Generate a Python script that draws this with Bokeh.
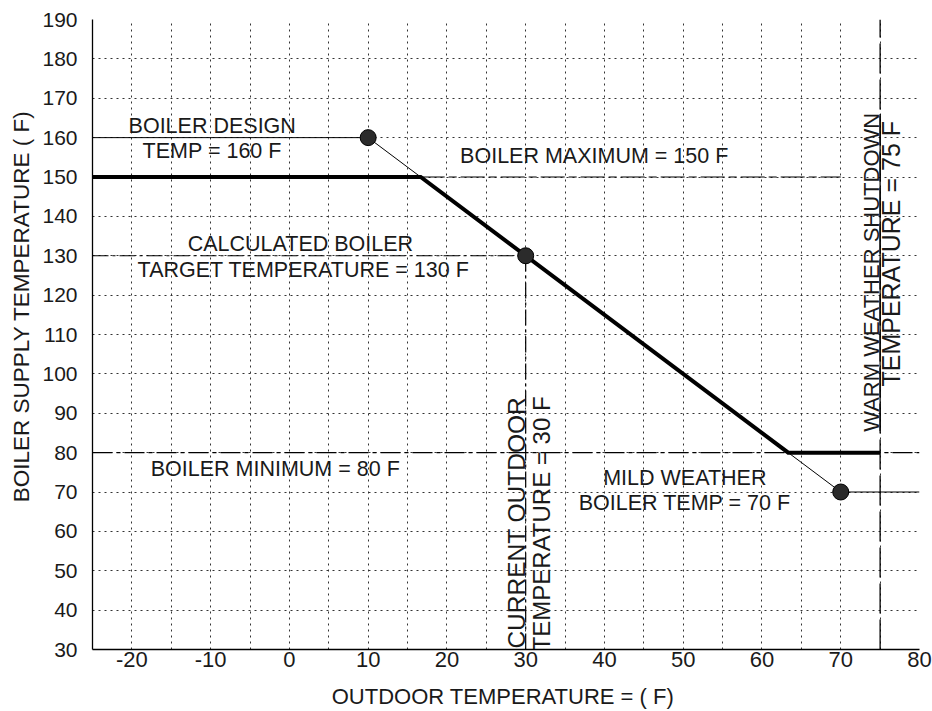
from bokeh.plotting import figure
from bokeh.models import FixedTicker, Range1d, ColumnDataSource
from bokeh.core.properties import value
from bokeh.embed import file_html
from bokeh.resources import INLINE
import math

# ---------------- data ----------------
x_ticks = [-20, -10, 0, 10, 20, 30, 40, 50, 60, 70, 80]
x_minor = [-25, -15, -5, 5, 15, 25, 35, 45, 55, 65, 75]
y_ticks = [30, 40, 50, 60, 70, 80, 90, 100, 110, 120, 130, 140, 150, 160, 170, 180, 190]
x_min, x_max = -25, 80
y_min, y_max = 30, 190

design_outdoor, design_supply = 10, 160      # boiler design point
current_outdoor, target_supply = 30, 130     # current / calculated target
mild_outdoor, mild_supply = 70, 70           # mild weather point
boiler_max = 150
boiler_min = 80
shutdown_outdoor = 75

point_outdoor = [design_outdoor, current_outdoor, mild_outdoor]
point_supply = [design_supply, target_supply, mild_supply]

# reset line through design and mild weather points, clipped at max / min
slope = (mild_supply - design_supply) / (mild_outdoor - design_outdoor)
x_at_max = design_outdoor + (boiler_max - design_supply) / slope
x_at_min = design_outdoor + (boiler_min - design_supply) / slope
curve_outdoor = [x_min, x_at_max, x_at_min, shutdown_outdoor]
curve_supply = [boiler_max, boiler_max, boiler_min, boiler_min]

# annotation texts
h_texts = ["BOILER DESIGN", "TEMP = 160 F", "BOILER MAXIMUM = 150 F",
           "CALCULATED BOILER", "TARGET TEMPERATURE = 130 F",
           "BOILER MINIMUM = 80 F", "MILD WEATHER", "BOILER TEMP = 70 F"]
h_x = [-9.8, -9.8, 38.7, 1.4, 1.8, -1.8, 50.2, 50.2]
h_y = [163.0, 156.6, 155.4, 132.9, 126.5, 75.9, 73.6, 67.2]

v_texts = ["CURRENT OUTDOOR", "TEMPERATURE = 30 F",
           "WARM WEATHER SHUTDOWN", "TEMPERATURE = 75 F"]
v_x = [28.8, 32.0, 73.9, 76.4]
v_y = [62.2, 61.9, 125.8, 130.5]
v_size = ["24.5px", "24px", "22px", "25px"]

FONT = "Liberation Sans"
INK = "#1a1a1a"

p = figure(width=932, height=711,
           x_range=Range1d(x_min, x_max), y_range=Range1d(y_min, y_max),
           output_backend="svg", toolbar_location=None, tools="",
           min_border_left=92, min_border_right=13,
           min_border_top=19, min_border_bottom=60)
p.outline_line_color = None
p.background_fill_color = "white"
p.border_fill_color = "white"

# axes
p.xaxis.ticker = FixedTicker(ticks=x_ticks, minor_ticks=x_minor)
p.yaxis.ticker = FixedTicker(ticks=y_ticks)
p.xaxis.major_label_overrides = {t: str(t) for t in x_ticks}
p.yaxis.major_label_overrides = {t: str(t) for t in y_ticks}
for ax in (p.xaxis[0], p.yaxis[0]):
    ax.major_tick_out = 0
    ax.major_tick_in = 0
    ax.minor_tick_out = 0
    ax.minor_tick_in = 0
    ax.axis_line_color = "black"
    ax.axis_line_width = 1.3
    ax.major_label_text_font = FONT
    ax.major_label_text_color = INK
    ax.axis_label_text_font = FONT
    ax.axis_label_text_font_style = "normal"
    ax.axis_label_text_color = INK

p.xaxis.major_label_text_font_size = "22px"
p.xaxis.major_label_standoff = 2
p.xaxis.axis_label = "OUTDOOR TEMPERATURE =  ( F)"
p.xaxis.axis_label_text_font_size = "22px"
p.xaxis.axis_label_standoff = 14

p.yaxis.major_label_text_font_size = "21px"
p.yaxis.major_label_standoff = 15
p.yaxis.axis_label = "\u00a0" * 10 + "BOILER SUPPLY TEMPERATURE  ( F)"
p.yaxis.axis_label_text_font_size = "22.5px"
p.yaxis.axis_label_standoff = 5

# grids (dotted)
p.xgrid.grid_line_color = "#333333"
p.xgrid.grid_line_dash = "2 4"
p.xgrid.grid_line_width = 1
p.xgrid.minor_grid_line_color = "#333333"
p.xgrid.minor_grid_line_dash = "2 4"
p.xgrid.minor_grid_line_width = 1
p.ygrid.grid_line_color = "#333333"
p.ygrid.grid_line_dash = "2 4"
p.ygrid.grid_line_width = 1

# reference lines
p.line([x_min, design_outdoor], [design_supply, design_supply], line_color="black", line_width=1)
p.line([x_min, current_outdoor], [target_supply, target_supply], line_color="black",
       line_width=1.2, line_dash="16 4 3 4")
p.line([current_outdoor, current_outdoor], [y_min, target_supply], line_color="black",
       line_width=1.2, line_dash="16 4 3 4")
p.line([x_at_max, mild_outdoor], [boiler_max, boiler_max], line_color="black",
       line_width=1.2, line_dash="24 4 8 4")
p.line([x_min, x_max], [boiler_min, boiler_min], line_color="black",
       line_width=1.2, line_dash="20 4 4 4")
p.line([mild_outdoor, x_max], [mild_supply, mild_supply], line_color="black", line_width=1)
p.line([shutdown_outdoor, shutdown_outdoor], [y_min, y_max], line_color="black",
       line_width=1.3, line_dash="30 6")
# underline of shutdown text
p.line([shutdown_outdoor, shutdown_outdoor], [85.5, 166.0], line_color="black", line_width=1.2)

# thin reset line through design and mild points
p.line([design_outdoor, mild_outdoor], [design_supply, mild_supply], line_color="black", line_width=1)
# thick actual reset curve
p.line(curve_outdoor, curve_supply, line_color="black", line_width=4, line_join="miter")

# points
p.scatter(point_outdoor, point_supply, marker="circle", size=16,
          fill_color="#2b2b2b", line_color="black", line_width=1)

# texts
hs = ColumnDataSource(dict(x=h_x, y=h_y, t=h_texts))
p.text(x="x", y="y", text="t", source=hs, text_font=value(FONT), text_font_size="21.5px",
       text_color=INK, text_align="center", text_baseline="middle")

vs = ColumnDataSource(dict(x=v_x, y=v_y, t=v_texts, s=v_size))
p.text(x="x", y="y", text="t", source=vs, text_font=value(FONT), text_font_size="s",
       text_color=INK, text_align="center", text_baseline="middle", angle=math.pi / 2)

open("out.html", "w").write(file_html(p, INLINE))
